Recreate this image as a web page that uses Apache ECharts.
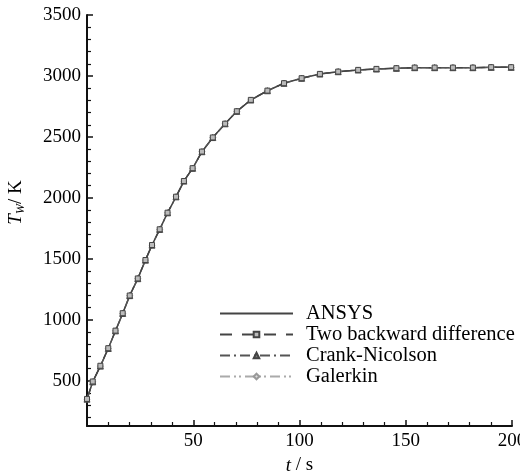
<!DOCTYPE html>
<html>
<head>
<meta charset="utf-8">
<script src="https://cdn.jsdelivr.net/npm/echarts@6/dist/echarts.min.js"></script>
<style>
  html, body { margin: 0; padding: 0; background: #fff; }
  #chart { width: 520px; height: 472px; }
</style>
</head>
<body>
<div id="chart"></div>
<script>
// time (s) and wall temperature (K)
const time = [0, 2.7, 6.3, 10.0, 13.4, 16.8, 20.1, 23.9, 27.5, 30.6, 34.2, 37.9, 41.9, 45.6,
  49.7, 54.1, 59.2, 65.0, 70.5, 77.1, 84.9, 92.7, 101.0, 109.6, 118.2, 127.6, 136.2,
  145.6, 154.2, 163.6, 172.2, 181.6, 190.2, 199.6];
const ansys = [350, 492, 621, 766, 910, 1053, 1199, 1338, 1490, 1613, 1742, 1878, 2009, 2138,
  2243, 2379, 2495, 2608, 2710, 2803, 2879, 2940, 2981, 3016, 3035, 3049, 3057,
  3063, 3068, 3068, 3068, 3068, 3071, 3071];
const twoBackward = [352, 495, 624, 768, 912, 1055, 1200, 1340, 1491, 1614, 1743, 1879, 2010, 2139,
  2244, 2380, 2496, 2609, 2711, 2804, 2880, 2941, 2982, 3017, 3036, 3050, 3058,
  3064, 3069, 3069, 3069, 3069, 3072, 3072];
const crankNicolson = ansys.slice();
const galerkin = ansys.slice();

const yMajor = [500, 1000, 1500, 2000, 2500, 3000, 3500];
const yMinor = [200, 300, 400, 600, 700, 800, 900, 1100, 1200, 1300, 1400, 1600, 1700, 1800, 1900,
  2100, 2200, 2300, 2400, 2600, 2700, 2800, 2900, 3100, 3200, 3300, 3400];

const pair = (ys) => time.map((t, i) => [t, ys[i]]);

const font = 'Liberation Serif';
const chart = echarts.init(document.getElementById('chart'));

chart.setOption({
  animation: false,
  backgroundColor: '#fff',
  grid: { left: 87, right: 8, top: 15, bottom: 46, outerBoundsMode: 'none' },
  legend: {
    orient: 'vertical',
    left: 214,
    top: 298,
    itemWidth: 73,
    itemHeight: 7,
    itemGap: 0,
    textStyle: { fontFamily: font, fontSize: 20.5, color: '#000', padding: [0, 0, 0, 8] },
    data: [
      { name: 'ANSYS', itemStyle: { opacity: 0 } },
      'Two backward difference',
      'Crank-Nicolson',
      'Galerkin'
    ]
  },
  xAxis: {
    type: 'value',
    min: 0,
    max: 200,
    interval: 50,
    name: '{i|t}{n| / s}',
    nameLocation: 'middle',
    nameGap: 30,
    nameTextStyle: {
      rich: {
        i: { fontFamily: font, fontSize: 19, fontStyle: 'italic', color: '#000' },
        n: { fontFamily: font, fontSize: 19, color: '#000' }
      }
    },
    axisLine: { lineStyle: { color: '#111', width: 2 } },
    axisTick: { inside: true, length: 6, lineStyle: { color: '#111', width: 1.5 } },
    minorTick: { show: true, splitNumber: 5, length: 4, lineStyle: { color: '#111', width: 1.2 } },
    axisLabel: { showMinLabel: false, fontFamily: font, fontSize: 19, color: '#000', margin: 6, formatter: '{value}' },
    splitLine: { show: false }
  },
  yAxis: [
    {
      type: 'value',
      min: 130,
      max: 3500,
      name: '{i|T}{s|W}{n|/ K}',
      nameLocation: 'middle',
      nameGap: 60,
      nameRotate: 90,
      nameTextStyle: {
        padding: [0, 0, 0, 36],
        rich: {
          i: { fontFamily: font, fontSize: 19, fontStyle: 'italic', color: '#000' },
          s: { fontFamily: font, fontSize: 12, fontStyle: 'italic', color: '#000', verticalAlign: 'bottom', padding: [10, 0, 0, 0] },
          n: { fontFamily: font, fontSize: 19, color: '#000' }
        }
      },
      axisLine: { lineStyle: { color: '#111', width: 2 } },
      axisTick: { inside: true, length: 6, customValues: yMajor, lineStyle: { color: '#111', width: 1.5 } },
      axisLabel: { customValues: yMajor, fontFamily: font, fontSize: 19, color: '#000', margin: 6, formatter: (v) => String(v) },
      splitLine: { show: false }
    },
    {
      type: 'value',
      min: 130,
      max: 3500,
      position: 'left',
      axisLine: { show: false },
      axisTick: { inside: true, length: 4, customValues: yMinor, lineStyle: { color: '#111', width: 1.2 } },
      axisLabel: { show: false },
      splitLine: { show: false }
    }
  ],
  series: [
    {
      name: 'Galerkin',
      type: 'line',
      data: pair(galerkin),
      symbol: 'diamond',
      symbolSize: 6,
      itemStyle: { color: '#ddd', borderColor: '#999', borderWidth: 1 },
      lineStyle: { color: '#aaa', width: 1.5, type: [10, 4, 2, 3, 2, 4] }
    },
    {
      name: 'ANSYS',
      type: 'line',
      data: pair(ansys),
      showSymbol: false,
      symbol: 'none',
      itemStyle: { color: '#444' },
      lineStyle: { color: '#444', width: 1.5 }
    },
    {
      name: 'Crank-Nicolson',
      type: 'line',
      data: pair(crankNicolson),
      symbol: 'triangle',
      symbolSize: 6,
      itemStyle: { color: '#777', borderColor: '#444', borderWidth: 1 },
      lineStyle: { color: '#555', width: 1.2, type: [10, 4, 2, 4] }
    },
    {
      name: 'Two backward difference',
      type: 'line',
      data: pair(twoBackward),
      symbol: 'rect',
      symbolSize: 5,
      itemStyle: { color: '#bbb', borderColor: '#444', borderWidth: 1 },
      lineStyle: { color: '#444', width: 1.2, type: [12, 10] }
    }
  ]
});
</script>
</body>
</html>
